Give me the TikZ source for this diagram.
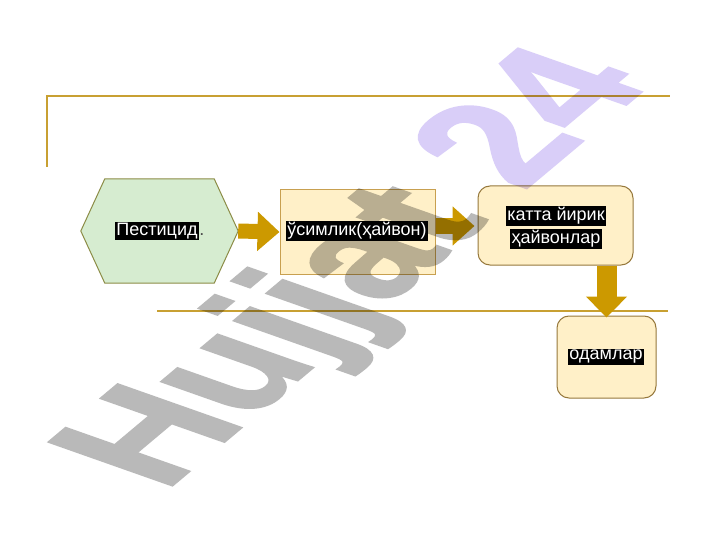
\documentclass[tikz,border=0pt]{standalone}
\usepackage{fontspec}
\setmainfont{Liberation Sans}
\newfontfamily\wmfont[FakeBold=1.5]{Liberation Sans Bold}
\usetikzlibrary{arrows.meta,calc}
\definecolor{goldline}{RGB}{200,160,50}
\definecolor{hexfill}{RGB}{214,236,208}
\definecolor{hexdraw}{RGB}{140,140,70}
\definecolor{boxfill}{RGB}{255,240,200}
\definecolor{boxdrawA}{RGB}{200,160,80}
\definecolor{boxdrawB}{RGB}{150,120,60}
\definecolor{arrowgold}{RGB}{204,153,0}
\definecolor{wmgray}{RGB}{185,185,185}
\definecolor{wmpurple}{RGB}{217,206,248}
\tikzset{
  rule/.style={draw=goldline, line width=1.5pt},
  plainbox/.style={draw=boxdrawA, fill=boxfill, line width=1pt, inner sep=0pt},
  roundbox/.style={draw=boxdrawB, fill=boxfill, line width=1pt, rounded corners=12pt, inner sep=0pt},
  blockarrowH/.style={draw=arrowgold, line width=15pt, -{Triangle[width=38pt,length=22pt]}},
  blockarrowV/.style={draw=arrowgold, line width=20pt, -{Triangle[width=40pt,length=21pt]}},
  lbl/.style={fill=black, text=white, inner sep=1.5pt, font=\fontsize{18}{20}\selectfont},
}
\begin{document}
\begin{tikzpicture}[x=1pt,y=-1pt]
\useasboundingbox[fill=white] (0,0) rectangle (720,540);

% rules
\draw[rule] (47,167) -- (47,96) -- (670,96);
\draw[rule] (157,311) -- (668,311);

% hexagon
\node[minimum width=157pt, minimum height=104pt, inner sep=0pt] (hex) at (159.5,231) {};
\draw[draw=hexdraw, fill=hexfill, line width=1pt]
  (hex.west) -- ($(hex.north west)+(24,0)$) -- ($(hex.north east)+(-24,0)$)
  -- (hex.east) -- ($(hex.south east)+(-24,0)$) -- ($(hex.south west)+(24,0)$) -- cycle;

% boxes
\node[plainbox, minimum width=155pt, minimum height=84pt] (b2) at (357.5,232) {};
\node[roundbox, minimum width=155pt, minimum height=79pt] (b3) at (555.5,225.5) {};
\node[roundbox, minimum width=99pt, minimum height=82pt] (b4) at (606.5,357) {};

% block arrows
\draw[blockarrowH] (hex.east) -- (b2.west);
\draw[blockarrowH, shorten >=3pt] ([yshift=6pt]b2.east) -- ([yshift=6pt]b2.east -| b3.west);
\draw[blockarrowV, shorten >=-2pt] (b4.north |- b3.south) -- (b4.north);

% watermark
\begin{scope}[blend mode=multiply]
\begin{scope}[transparency group]
\begin{scope}[shift={(162,494)}]
  \begin{scope}[cm={11.72,9.83,-17.9,6.31,(0,0)}]
    \node[transform shape, anchor=base west, inner sep=0pt,
          font=\wmfont\fontsize{10}{12}\selectfont] (wm) at (0,0)
      {\textcolor{wmgray}{Hujjat} \textcolor{wmpurple}{24}};
  \end{scope}
\end{scope}
\end{scope}
\end{scope}

% labels
\node[lbl] (t1) at (157,231) {Пестицид};
\node[anchor=base west, inner sep=0pt, font=\fontsize{18}{20}\selectfont, text=black!70] at (t1.base east) {.};
\node[lbl] (t2) at (357,231) {ўсимлик(ҳайвон)};
\node[lbl] (t3a) at (556,216) {катта йирик };
\node[lbl] (t3b) at (556,239) {ҳайвонлар};
\node[lbl] (t4) at (606,357) {одамлар};
\end{tikzpicture}
\end{document}
